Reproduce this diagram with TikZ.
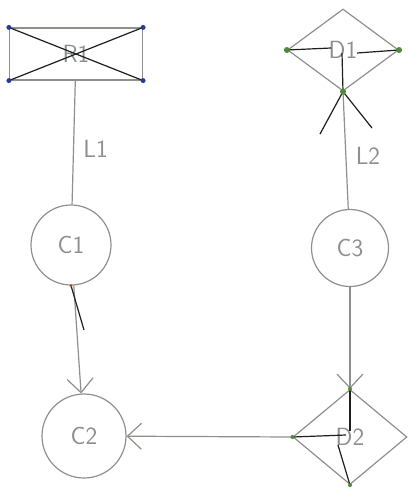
\documentclass[tikz,border=0pt]{standalone}
\usepackage{tikz}
\usetikzlibrary{arrows.meta,shapes.geometric,calc}
\definecolor{pencil}{HTML}{8C918C}
\definecolor{ink}{HTML}{1E1E1E}
\definecolor{pin}{HTML}{2A3A9A}
\definecolor{leaf}{HTML}{4E8A3A}
\definecolor{rust}{HTML}{9A4A2A}
\tikzset{
  sketch/.style={draw=pencil, line width=1.2pt, text=pencil, font=\Huge\sffamily, inner sep=0pt},
  relbox/.style={sketch, rectangle, minimum width=133pt, minimum height=52pt},
  entity/.style={sketch, circle, minimum size=80pt},
  link/.style={sketch, diamond, inner sep=0pt},
  lbl/.style={text=pencil, font=\Huge\sffamily},
  wire/.style={draw=pencil, line width=1.2pt},
  flow/.style={-{Straight Barb[length=14pt, width=26pt, line width=1.2pt]}, draw=pencil, line width=1.2pt},
  inkline/.style={draw=ink, line width=1.2pt},
  dotb/.style={fill=pin, circle, inner sep=0pt, minimum size=5pt},
  dotg/.style={fill=leaf, circle, inner sep=0pt, minimum size=6pt}
}
\begin{document}
\begin{tikzpicture}[x=1pt, y=-1pt]
  \useasboundingbox (0,0) rectangle (407,490);
  % nodes
  \node[relbox] (r1) at (76,54) {R1};
  \node[link, minimum width=111pt, minimum height=82pt] (d1) at (343,50) {D1};
  \node[entity] (c1) at (71,245) {C1};
  \node[entity, minimum size=77pt] (c3) at (350,248) {C3};
  \node[entity, minimum size=84pt] (c2) at (84,436) {C2};
  \node[link, minimum width=114pt, minimum height=95pt] (d2) at (350,437) {D2};
  % connectors
  \draw[wire] (r1) -- (c1) node[lbl, pos=0.55, right=6pt] (l1) {L1};
  \draw[wire] (d1.south) -- (c3) node[lbl, pos=0.55, right=6pt] (l2) {L2};
  \draw[flow] (c1) -- (c2);
  \draw[flow] (c3) -- (d2);
  \draw[flow] (d2.west) -- (c2);
  % ink marks
  \draw[inkline] (r1.north west) -- (r1.south east);
  \draw[inkline] (r1.south west) -- (r1.north east);
  \foreach \k in {north west,north east,south west,south east}
    \node[dotb] at (r1.\k) {};
  \draw[inkline] (d1.west) -- ($(d1.center)+(-12,-2)$);
  \draw[inkline] (d1.east) -- ($(d1.center)+(14,3)$);
  \draw[inkline] ($(d1.center)+(-1,3)$) -- (d1.south);
  \coordinate (d1a) at (320,134);
  \coordinate (d1b) at (372,128);
  \draw[inkline] (d1.south) -- (d1a);
  \draw[inkline] (d1.south) -- (d1b);
  \foreach \k in {west,east,south}
    \node[dotg] at (d1.\k) {};
  \coordinate (c1t) at (84,330);
  \draw[inkline] (c1.south) -- (c1t);
  \node[fill=rust, circle, inner sep=0pt, minimum size=3pt] at (c1.south) {};
  \draw[inkline] (d2.north) -- ($(d2.center)+(0,-6)$);
  \draw[inkline] (d2.west) -- ($(d2.center)+(-4,-2)$);
  \draw[inkline] ($(d2.center)+(-12,8)$) -- (d2.south);
  \foreach \k in {north,west,south}
    \node[dotg, minimum size=4pt] at (d2.\k) {};
\end{tikzpicture}
\end{document}
